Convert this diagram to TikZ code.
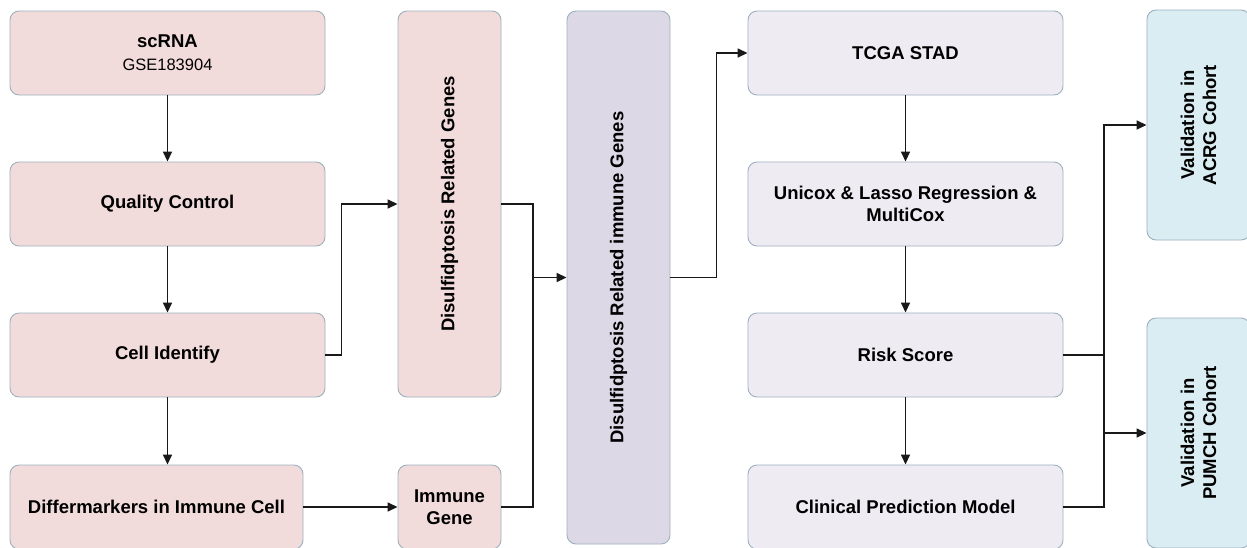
\documentclass[tikz,border=0pt]{standalone}
\usepackage{fontspec}
\setmainfont{Liberation Sans}
\usetikzlibrary{arrows.meta}

\definecolor{pinkfill}{HTML}{F2DCDB}
\definecolor{violetfill}{HTML}{DDD8E6}
\definecolor{greyfill}{HTML}{EEEBF2}
\definecolor{bluefill}{HTML}{DAEDF2}
\definecolor{rimcol}{HTML}{9DB0BF}

\tikzset{
  boxfont/.style={font=\fontsize{18.5}{22}\selectfont\bfseries},
  box/.style={draw=rimcol, line width=0.9pt, rounded corners=9pt, inner sep=0pt,
    align=center, boxfont},
  pinkbox/.style={box, fill=pinkfill},
  greybox/.style={box, fill=greyfill},
  uptext/.style={rotate=90, align=center, boxfont},
  link/.style={line width=1.5pt, black!90},
  flow/.style={link, -{Triangle[length=10pt,width=9pt]}}
}

\begin{document}
\begin{tikzpicture}[x=1pt,y=-1pt]
  \useasboundingbox (0,0) rectangle (1247,547);

  % single cell branch
  \node[pinkbox, minimum width=315, minimum height=84] (scrna) at (167.5,53)
    {scRNA\\[1pt]{\fontsize{16.5}{19}\selectfont\mdseries GSE183904}};
  \node[pinkbox, minimum width=315, minimum height=84] (qc) at (167.5,204) {Quality Control};
  \node[pinkbox, minimum width=315, minimum height=84] (cell) at (167.5,355) {Cell Identify};
  \node[pinkbox, minimum width=293, minimum height=84] (diff) at (156.5,507) {Differmarkers in Immune Cell};

  \node[pinkbox, minimum width=103, minimum height=386] (genes) at (449.5,204)
    [label={[uptext]center:Disulfidptosis Related Genes}] {};
  \node[pinkbox, minimum width=103, minimum height=84] (immune) at (449.5,507) {Immune\\Gene};

  \node[box, fill=violetfill, minimum width=103, minimum height=533] (drig) at (618.5,277.5)
    [label={[uptext]center:Disulfidptosis Related immune Genes}] {};

  % bulk branch
  \node[greybox, minimum width=315, minimum height=84] (tcga) at (905.5,53) {TCGA STAD};
  \node[greybox, minimum width=315, minimum height=84] (cox) at (905.5,204)
    {Unicox \& Lasso Regression \&\\MultiCox};
  \node[greybox, minimum width=315, minimum height=84] (risk) at (905.5,355) {Risk Score};
  \node[greybox, minimum width=315, minimum height=84] (clin) at (905.5,507) {Clinical Prediction Model};

  \node[box, fill=bluefill, minimum width=103, minimum height=230] (acrg) at (1198.5,125)
    [label={[uptext]center:Validation in\\ACRG Cohort}] {};
  \node[box, fill=bluefill, minimum width=103, minimum height=230] (pumch) at (1198.5,433)
    [label={[uptext]center:Validation in\\PUMCH Cohort}] {};

  \coordinate (merge) at (533,277.5);
  \coordinate (bus) at (1104,0);

  \draw[flow] (scrna) -- (qc);
  \draw[flow] (qc) -- (cell);
  \draw[flow] (cell) -- (diff.north -| cell);
  \draw[flow] (cell.east) -- ++(16,0) |- (genes.west);
  \draw[flow] (diff.east) -- (immune.west);
  \draw[link] (genes.east) -| (merge) |- (immune.east);
  \draw[flow] (merge) -- (drig.west);
  \draw[flow] (drig.east) -- ++(46,0) |- (tcga.west);

  \draw[flow] (tcga) -- (cox);
  \draw[flow] (cox) -- (risk);
  \draw[flow] (risk) -- (clin);

  \draw[link] (risk.east) -- (bus |- risk.east);
  \draw[flow] (clin.east) -- (bus |- clin.east) -- (bus |- acrg.west) -- (acrg.west);
  \draw[flow] (bus |- pumch.west) -- (pumch.west);
\end{tikzpicture}
\end{document}
